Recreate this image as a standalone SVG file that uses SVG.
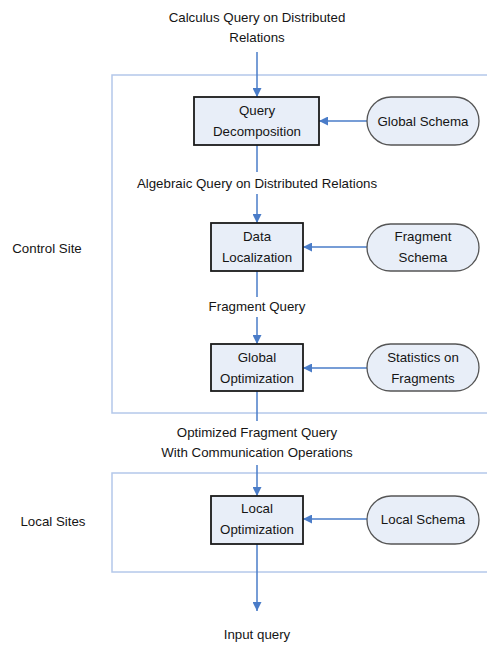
<svg xmlns="http://www.w3.org/2000/svg" width="487" height="645" viewBox="0 0 487 645">
  <defs>
    <marker id="arrow" viewBox="0 0 10 10" refX="10" refY="5" markerWidth="9" markerHeight="9" markerUnits="userSpaceOnUse" orient="auto">
      <path d="M0,0 L10,5 L0,10 z" fill="#4a7cc8"/>
    </marker>
    <style>
      text { font-family: "Liberation Sans", Arial, sans-serif; font-size: 13.3px; fill: #151515; text-anchor: middle; }
      .site { fill: none; stroke: #b4c8ea; stroke-width: 1.5; }
      .proc { fill: #e8eef8; stroke: #1a1a1a; stroke-width: 1.8; }
      .src { fill: #e8eef8; stroke: #555; stroke-width: 1.3; }
      .link { fill: none; stroke: #4a7cc8; stroke-width: 1.5; }
      .arr { marker-end: url(#arrow); }
    </style>
  </defs>

  <!-- site regions -->
  <g id="control-site">
    <rect class="site" x="112" y="75" width="390" height="338"/>
    <text x="47" y="253">Control Site</text>
  </g>
  <g id="local-sites">
    <rect class="site" x="112" y="473" width="390" height="99"/>
    <text x="53" y="526">Local Sites</text>
  </g>

  <!-- connectors -->
  <g id="connectors">
    <line class="link arr" x1="257" y1="52" x2="257" y2="97"/>
    <line class="link" x1="257" y1="145" x2="257" y2="172"/>
    <line class="link arr" x1="257" y1="194" x2="257" y2="223"/>
    <line class="link" x1="257" y1="271" x2="257" y2="297"/>
    <line class="link arr" x1="257" y1="317" x2="257" y2="344"/>
    <line class="link" x1="257" y1="391" x2="257" y2="421"/>
    <line class="link arr" x1="257" y1="465" x2="257" y2="496"/>
    <line class="link arr" x1="257" y1="544" x2="257" y2="611"/>
    <line class="link arr" x1="367" y1="121" x2="319" y2="121"/>
    <line class="link arr" x1="367" y1="247" x2="303" y2="247"/>
    <line class="link arr" x1="367" y1="368" x2="303" y2="368"/>
    <line class="link arr" x1="367" y1="519" x2="303" y2="519"/>
  </g>

  <!-- flow labels -->
  <g id="labels">
    <text x="257" y="22">Calculus Query on Distributed</text>
    <text x="257" y="42">Relations</text>
    <text x="257" y="188">Algebraic Query on Distributed Relations</text>
    <text x="257" y="311">Fragment Query</text>
    <text x="257" y="437">Optimized Fragment Query</text>
    <text x="257" y="457">With Communication Operations</text>
    <text x="257" y="639">Input query</text>
  </g>

  <!-- processing steps -->
  <g id="query-decomposition">
    <rect class="proc" x="194" y="97" width="125" height="48"/>
    <text x="257" y="115">Query</text>
    <text x="257" y="136">Decomposition</text>
  </g>
  <g id="data-localization">
    <rect class="proc" x="211" y="223" width="92" height="48"/>
    <text x="257" y="241">Data</text>
    <text x="257" y="262">Localization</text>
  </g>
  <g id="global-optimization">
    <rect class="proc" x="211" y="344" width="92" height="47"/>
    <text x="257" y="362">Global</text>
    <text x="257" y="383">Optimization</text>
  </g>
  <g id="local-optimization">
    <rect class="proc" x="211" y="496" width="92" height="48"/>
    <text x="257" y="513">Local</text>
    <text x="257" y="534">Optimization</text>
  </g>

  <!-- schema / statistics sources -->
  <g id="global-schema">
    <rect class="src" x="367" y="97" width="112" height="48" rx="24"/>
    <text x="423" y="126">Global Schema</text>
  </g>
  <g id="fragment-schema">
    <rect class="src" x="367" y="224" width="112" height="47" rx="23.5"/>
    <text x="423" y="241">Fragment</text>
    <text x="423" y="262">Schema</text>
  </g>
  <g id="statistics">
    <rect class="src" x="367" y="344" width="112" height="47" rx="23.5"/>
    <text x="423" y="362">Statistics on</text>
    <text x="423" y="383">Fragments</text>
  </g>
  <g id="local-schema">
    <rect class="src" x="367" y="496" width="112" height="48" rx="24"/>
    <text x="423" y="524">Local Schema</text>
  </g>
</svg>
